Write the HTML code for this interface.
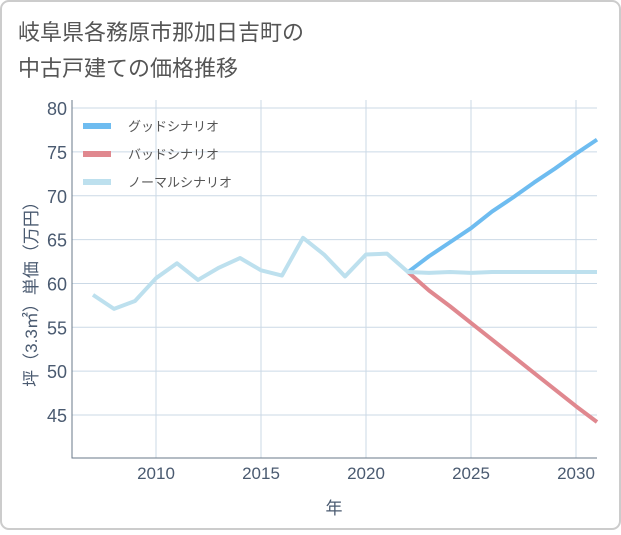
<!DOCTYPE html>
<html><head><meta charset="utf-8"><style>
body{margin:0;background:#fff}
svg text{font-family:"Liberation Sans","Noto Sans CJK JP",sans-serif}
</style></head><body>
<svg width="621" height="530" xmlns="http://www.w3.org/2000/svg">
<rect x="1" y="1" width="619" height="528" rx="8" fill="#fff" stroke="#ccc" stroke-width="2"/>
<text x="18" y="40" font-size="22" fill="#555">岐阜県各務原市那加日吉町の</text>
<text x="18" y="76" font-size="22" fill="#555">中古戸建ての価格推移</text>
<g id="grid"></g>
<g id="axes"></g>
<g id="series"></g>
<g id="legend"></g>
<text x="334" y="514" font-size="17" fill="#4a5a70" text-anchor="middle">年</text>
<text transform="translate(37,290) rotate(-90)" font-size="17" fill="#4a5a70" text-anchor="middle">坪（3.3㎡）単価（万円）</text>
</svg>
<script>
const years=[2007,2008,2009,2010,2011,2012,2013,2014,2015,2016,2017,2018,2019,2020,2021,2022,2023,2024,2025,2026,2027,2028,2029,2030,2031];
const normal=[58.7,57.1,58.0,60.6,62.3,60.4,61.8,62.9,61.5,60.9,65.2,63.3,60.8,63.3,63.4,61.3,61.2,61.3,61.2,61.3,61.3,61.3,61.3,61.3,61.3];
const goodYears=[2022,2023,2024,2025,2026,2027,2028,2029,2030,2031];
const good=[61.3,63.1,64.7,66.3,68.2,69.8,71.5,73.1,74.8,76.4];
const bad=[61.3,59.2,57.4,55.5,53.6,51.7,49.8,47.9,46.0,44.2];
const xTicks=[2010,2015,2020,2025,2030];
const yTicks=[45,50,55,60,65,70,75,80];
const X0=72,X1=597,Y0=100,Y1=458;
const xs=v=>72+(v-2006)*21;
const ys=v=>415-(v-45)*8.77;
const NS='http://www.w3.org/2000/svg';
function mk(t,a,p){const e=document.createElementNS(NS,t);for(const k in a)e.setAttribute(k,a[k]);p.appendChild(e);return e;}
const grid=document.getElementById('grid'),axes=document.getElementById('axes'),ser=document.getElementById('series'),leg=document.getElementById('legend');
xTicks.forEach(t=>{const l=mk('line',{x1:xs(t),x2:xs(t),y1:Y0,y2:Y1,stroke:'#cbd9e6','stroke-width':1},grid);


const tx=mk('text',{x:xs(t),y:Y1+21,'font-size':17,fill:'#4a5a70','text-anchor':'middle'},axes);tx.textContent=t;

});
yTicks.forEach(t=>{const l=mk('line',{x1:X0,x2:X1,y1:ys(t),y2:ys(t),stroke:'#cbd9e6','stroke-width':1},grid);


const tx=mk('text',{x:X0-5,y:ys(t)+7,'font-size':18,fill:'#4a5a70','text-anchor':'end'},axes);tx.textContent=t;

});
const ax=mk('path',{d:`M${X0},${Y0}V${Y1}H${X1}`,fill:'none',stroke:'#6a7a8a','stroke-width':1},axes);


function line(xv,yv,c,name){const d=xv.map((x,i)=>(i?'L':'M')+xs(x)+','+ys(yv[i])).join('');
const p=mk('path',{d,fill:'none',stroke:c,'stroke-width':4,'stroke-linejoin':'round'},ser);

}
line(goodYears,bad,'#e0888f','bad-scenario-line');
line(goodYears,good,'#6ebcf0','good-scenario-line');
line(years,normal,'#bde0ee','normal-scenario-line');
[['グッドシナリオ','#6ebcf0'],['バッドシナリオ','#e0888f'],['ノーマルシナリオ','#bde0ee']].forEach((e,i)=>{
const y=126+i*28;
const r=mk('rect',{x:83,y:y-3,width:28,height:6,fill:e[1]},leg);


const t=mk('text',{x:128,y:y+5,'font-size':13,fill:'#555'},leg);t.textContent=e[0];

});
</script>
</body></html>
